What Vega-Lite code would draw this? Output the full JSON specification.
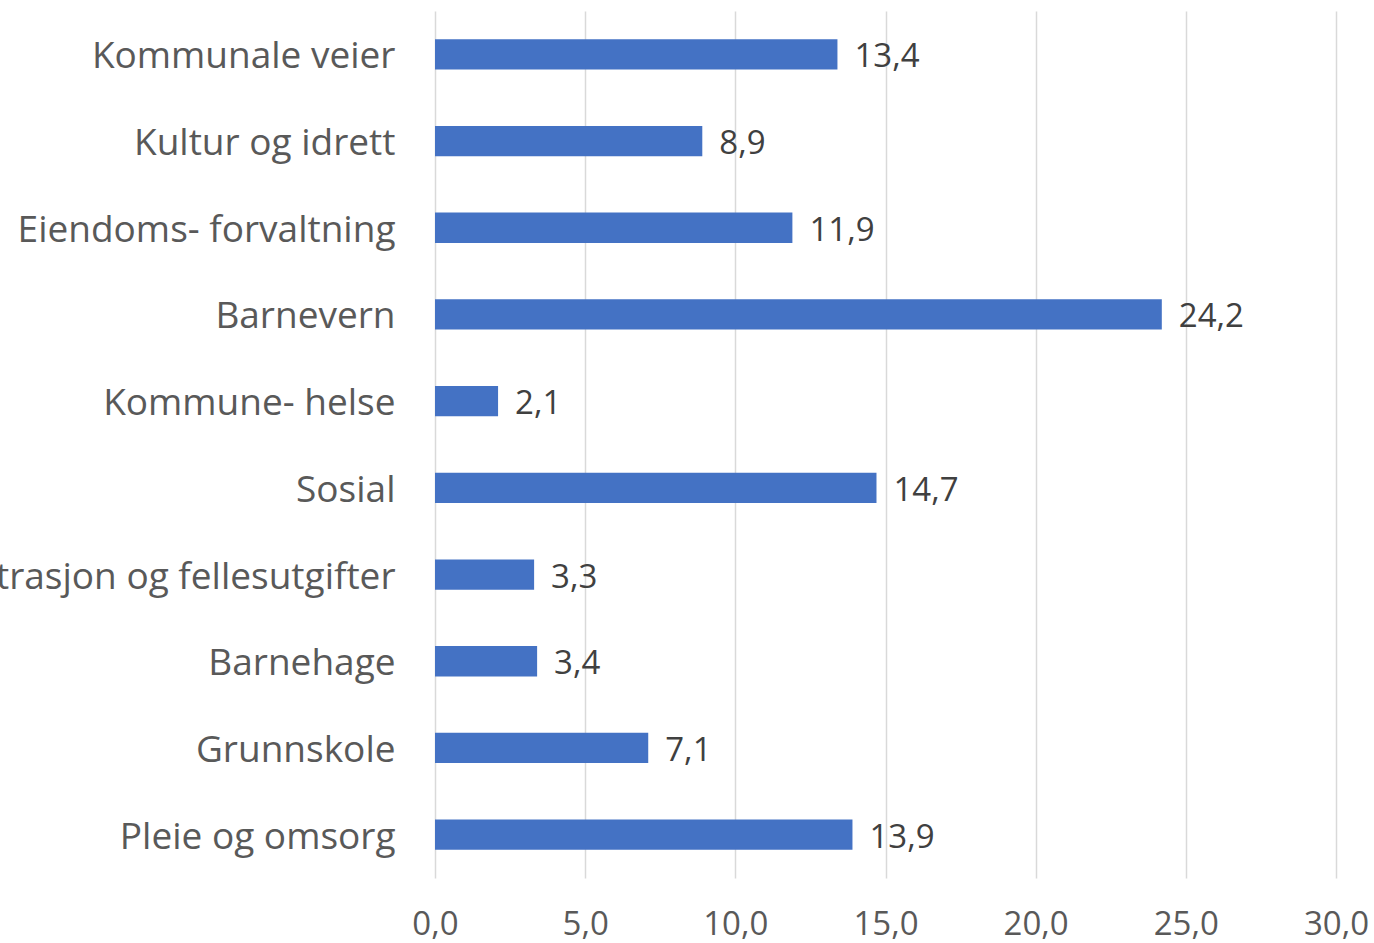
{
  "$schema": "https://vega.github.io/schema/vega-lite/v6.json",
  "autosize": "none",
  "width": 901,
  "height": 867,
  "padding": {"left": 435, "top": 11, "right": 38, "bottom": 65},
  "background": "white",
  "config": {
    "locale": {"number": {"decimal": ",", "thousands": " ", "grouping": [3], "currency": ["", " kr"]}},
    "view": {"stroke": null},
    "font": "Open Sans"
  },
  "data": {
    "values": [
      {"kategori": "Kommunale veier", "verdi": 13.4},
      {"kategori": "Kultur og idrett", "verdi": 8.9},
      {"kategori": "Eiendoms- forvaltning", "verdi": 11.9},
      {"kategori": "Barnevern", "verdi": 24.2},
      {"kategori": "Kommune- helse", "verdi": 2.1},
      {"kategori": "Sosial", "verdi": 14.7},
      {"kategori": "Administrasjon og fellesutgifter", "verdi": 3.3},
      {"kategori": "Barnehage", "verdi": 3.4},
      {"kategori": "Grunnskole", "verdi": 7.1},
      {"kategori": "Pleie og omsorg", "verdi": 13.9}
    ]
  },
  "encoding": {
    "y": {
      "field": "kategori",
      "type": "nominal",
      "sort": null,
      "title": null,
      "scale": {"paddingInner": 0.65, "paddingOuter": 0.325},
      "axis": {
        "domain": false,
        "ticks": false,
        "labelPadding": 40,
        "labelFontSize": 37,
        "labelOffset": 3,
        "labelColor": "#595959",
        "labelLimit": 0
      }
    },
    "x": {
      "field": "verdi",
      "type": "quantitative",
      "title": null,
      "scale": {"domain": [0, 30], "nice": false},
      "axis": {
        "values": [0, 5, 10, 15, 20, 25, 30],
        "format": ".1f",
        "domain": false,
        "ticks": false,
        "labelFlush": false,
        "labelOverlap": false,
        "labelPadding": 30,
        "labelFontSize": 33,
        "labelColor": "#595959",
        "gridColor": "#d9d9d9",
        "gridWidth": 1.5
      }
    }
  },
  "layer": [
    {"mark": {"type": "bar", "color": "#4472C4"}},
    {
      "mark": {"type": "text", "align": "left", "baseline": "middle", "dx": 17, "dy": 3, "fontSize": 33, "color": "#404040"},
      "encoding": {"text": {"field": "verdi", "type": "quantitative", "format": ".1f"}}
    }
  ]
}
